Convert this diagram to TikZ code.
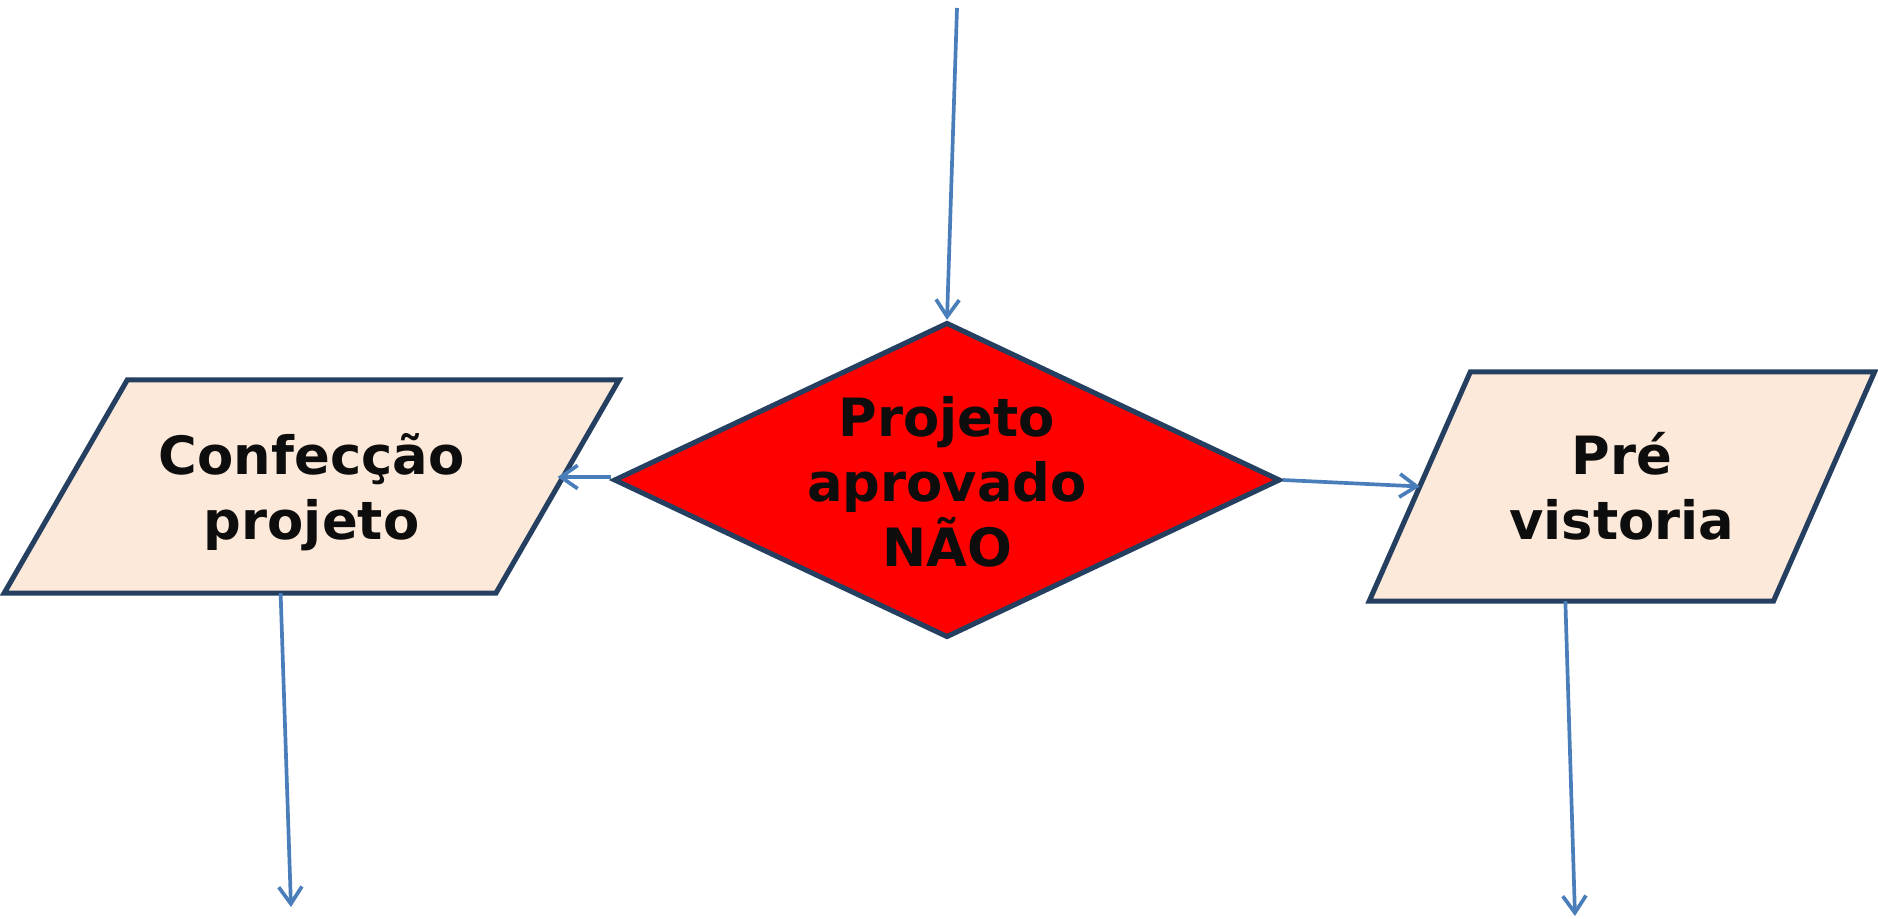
\documentclass[tikz,border=0pt]{standalone}
\usepackage{fontspec}
\setmainfont{DejaVu Sans}
\usepackage{tikz}
\usetikzlibrary{shapes.geometric, positioning, arrows.meta}

\definecolor{navy}{HTML}{243F60}
\definecolor{peach}{HTML}{FDE9D9}
\definecolor{arrowblue}{HTML}{4A7EBB}
\definecolor{ink}{HTML}{0D0D0D}

\begin{document}
\begin{tikzpicture}[x=0.01cm, y=-0.01cm, node distance=2cm, on grid]
    \tikzset{
        flow/.style={draw=arrowblue, line width=1.05pt, -{Straight Barb[length=4.8pt,width=6.6pt]}},
        lbl/.style={font=\fontsize{15}{18.5}\selectfont\bfseries, text=ink, align=center},
        iobox/.style={rectangle, inner sep=0pt, outer sep=0pt},
        ioframe/.style={draw=navy, line width=1.45pt, fill=peach, line join=miter},
        decision/.style={diamond, draw=navy, line width=1.45pt, fill=red, inner sep=0pt}
    }
    \useasboundingbox (0,0) rectangle (1878,919);

    % DECISION
    \node[decision, minimum width=6.66cm, minimum height=3.15cm] (dec) at (947,480) {};
    \node[lbl] (decText) at ([yshift=-0.02cm]dec.center) {Projeto\\aprovado\\NÃO};

    % INPUT / OUTPUT
    \node[iobox, minimum width=4.915cm, minimum height=2.13cm] (conf) [left=6.35cm of dec, yshift=-0.065cm] {};
    \path[ioframe] ([xshift=0.615cm]conf.north west) -- ([xshift=0.615cm]conf.north east)
        -- ([xshift=-0.615cm]conf.south east) -- ([xshift=-0.615cm]conf.south west) -- cycle;
    \node[lbl] (confText) at ([yshift=-0.06cm]conf.center) {Confecção\\projeto};

    \node[iobox, minimum width=4.04cm, minimum height=2.29cm] (pre) [right=6.745cm of dec, yshift=-0.065cm] {};
    \path[ioframe] ([xshift=0.505cm]pre.north west) -- ([xshift=0.505cm]pre.north east)
        -- ([xshift=-0.505cm]pre.south east) -- ([xshift=-0.505cm]pre.south west) -- cycle;
    \node[lbl] (preText) at (pre.center) {Pré\\vistoria};

    % LOOSE ENDS
    \coordinate (topIn) at (957,8);
    \coordinate (confOut) at (291,907);
    \coordinate (preOut) at (1575,916);

    % CONNECTORS
    \draw[flow] (topIn) -- (dec.north);
    \draw[flow] ([yshift=0.03cm]dec.west) -- ([yshift=0.03cm]dec.west -| conf.east);
    \draw[flow] (dec.east) -- (pre.west);
    \draw[flow] ([xshift=-0.31cm]conf.south) -- (confOut);
    \draw[flow] ([xshift=-0.565cm]pre.south) -- (preOut);

\end{tikzpicture}
\end{document}
